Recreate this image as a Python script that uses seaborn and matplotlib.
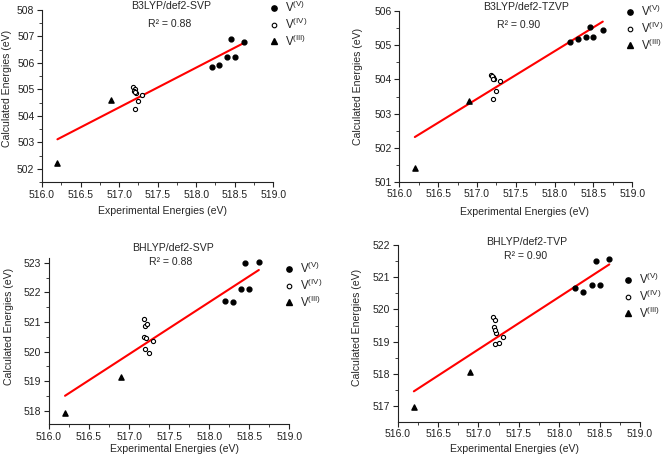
import numpy as np
import matplotlib
matplotlib.use("Agg")
import matplotlib.pyplot as plt
from matplotlib.lines import Line2D
from matplotlib.ticker import MultipleLocator
import seaborn as sns

# experimental energies (shared by all panels)
x_v5 = [518.2, 518.3, 518.4, 518.45, 518.5, 518.62]
x_v4 = [517.18, 517.2, 517.22, 517.19, 517.21, 517.3, 517.2, 517.25]
x_v3 = [516.2, 516.9]

# calculated energies per method
titles = ["B3LYP/def2-SVP", "B3LYP/def2-TZVP", "BHLYP/def2-SVP", "BHLYP/def2-TVP"]
r2_labels = ["R² = 0.88", "R² = 0.90", "R² = 0.88", "R² = 0.90"]

y_v5_b3svp = [505.86, 505.92, 506.24, 506.9, 506.24, 506.78]
y_v4_b3svp = [505.08, 505.0, 504.85, 504.95, 504.9, 504.78, 504.27, 504.56]
y_v3_b3svp = [502.2, 504.58]

y_v5_b3tzvp = [505.1, 505.2, 505.24, 505.53, 505.24, 505.45]
y_v4_b3tzvp = [504.14, 504.08, 504.0, 504.1, 504.02, 503.96, 503.42, 503.67]
y_v3_b3tzvp = [501.4, 503.38]

y_v5_bhsvp = [521.7, 521.67, 522.12, 522.98, 522.12, 523.02]
y_v4_bhsvp = [521.11, 520.87, 520.94, 520.5, 520.44, 520.35, 520.08, 519.94]
y_v3_bhsvp = [517.93, 519.15]

y_v5_bhtvp = [520.65, 520.55, 520.75, 521.5, 520.75, 521.55]
y_v4_bhtvp = [519.75, 519.68, 519.27, 519.44, 519.37, 519.14, 518.93, 518.96]
y_v3_bhtvp = [516.97, 518.05]

y_ticks = [[502, 503, 504, 505, 506, 507, 508],
           [501, 502, 503, 504, 505, 506],
           [518, 519, 520, 521, 522, 523],
           [517, 518, 519, 520, 521, 522]]
x_ticks = [516.0, 516.5, 517.0, 517.5, 518.0, 518.5, 519.0]

sns.set_theme(style="ticks")
plt.rcParams["font.family"] = ["Liberation Sans", "DejaVu Sans"]
plt.rcParams["mathtext.fontset"] = "custom"
plt.rcParams["mathtext.rm"] = "Liberation Sans"

W, H = 663, 457
fig = plt.figure(figsize=(W / 100, H / 100), dpi=100)


def fx(px):
    return px / W


def fy(py):
    return 1 - py / H


# axes boxes in pixels: left, right, top, bottom
boxes = [(42, 273.3, 10, 182), (399.3, 632.3, 11.3, 181.7),
         (49, 289.3, 258.3, 424), (397.7, 640, 244.7, 421.5)]
ylims = [(501.5, 508), (501, 506), (517.55, 523.15), (516.53, 522)]
title_pos = [(171, 6), (526, 7), (173, 248), (527, 242)]
r2_pos = [(170, 24), (519, 25), (171, 262), (526, 256)]
xlab_pos = [(163, 211), (524, 212), (174, 449), (515, 449)]
ylab_pos = [(7, 88), (358, 86), (9, 326), (357, 327)]
leg_pos = [(274, 24), (630, 28), (289, 285), (628, 296)]

series = [(y_v5_b3svp, y_v4_b3svp, y_v3_b3svp),
          (y_v5_b3tzvp, y_v4_b3tzvp, y_v3_b3tzvp),
          (y_v5_bhsvp, y_v4_bhsvp, y_v3_bhsvp),
          (y_v5_bhtvp, y_v4_bhtvp, y_v3_bhtvp)]

for i in range(4):
    l, r, t, b = boxes[i]
    ax = fig.add_axes([fx(l), fy(b), (r - l) / W, (b - t) / H])
    y5, y4, y3 = series[i]

    # fitted line over all points
    all_x = x_v5 + x_v4 + x_v3
    all_y = y5 + y4 + y3
    sns.regplot(x=all_x, y=all_y, scatter=False, ci=None, truncate=True,
                color="red", line_kws=dict(lw=1.5), ax=ax)

    ax.scatter(x_v5, y5, marker="o", s=12, color="black", zorder=3)
    ax.scatter(x_v4, y4, marker="o", s=9, facecolor="white",
               edgecolor="black", linewidth=0.8, zorder=3)
    ax.scatter(x_v3, y3, marker="^", s=14, color="black", zorder=3)

    ax.set_xlim(516.0, 519.0)
    ax.set_ylim(*ylims[i])
    ax.set_xticks(x_ticks)
    ax.set_xticklabels([f"{v:.1f}" for v in x_ticks])
    ax.set_yticks(y_ticks[i])
    ax.xaxis.set_minor_locator(MultipleLocator(0.25))
    ax.yaxis.set_minor_locator(MultipleLocator(0.5))
    ax.tick_params(which="major", direction="out", length=3.5, width=0.8,
                   labelsize=7.5, pad=2, colors="#222222")
    ax.tick_params(which="minor", direction="out", length=2, width=0.6,
                   colors="#222222")
    sns.despine(ax=ax)
    for s in ["left", "bottom"]:
        ax.spines[s].set_linewidth(0.8)
        ax.spines[s].set_color("#222222")
    ax.set_xlabel("")
    ax.set_ylabel("")

    fig.text(fx(title_pos[i][0]), fy(title_pos[i][1]), titles[i],
             ha="center", va="center", fontsize=7.6)
    fig.text(fx(r2_pos[i][0]), fy(r2_pos[i][1]), r2_labels[i],
             ha="center", va="center", fontsize=7.6)
    fig.text(fx(xlab_pos[i][0]), fy(xlab_pos[i][1]), "Experimental Energies (eV)",
             ha="center", va="center", fontsize=7.6)
    fig.text(fx(ylab_pos[i][0]), fy(ylab_pos[i][1]), "Calculated Energies (eV)",
             ha="center", va="center", rotation=90, fontsize=7.6)

    handles = [
        Line2D([], [], ls="none", marker="o", ms=3.8, color="black"),
        Line2D([], [], ls="none", marker="o", ms=3.3, mfc="white", mec="black", mew=0.8),
        Line2D([], [], ls="none", marker="^", ms=4.2, color="black"),
    ]
    labels = [r"V$^{\mathrm{(V)}}$", r"V$^{\mathrm{(IV)}}$", r"V$^{\mathrm{(III)}}$"]
    fs = 8.3
    hl = 1.0
    em = fs * 100 / 72
    lx, ly = leg_pos[i]
    ax.legend(handles, labels, loc="center left", frameon=False,
              bbox_to_anchor=(fx(lx - hl * em / 2), fy(ly)),
              bbox_transform=fig.transFigure, fontsize=fs,
              handlelength=hl, handletextpad=0.45, labelspacing=0.15,
              borderpad=0, borderaxespad=0)

fig.savefig("out.png", dpi=100)
